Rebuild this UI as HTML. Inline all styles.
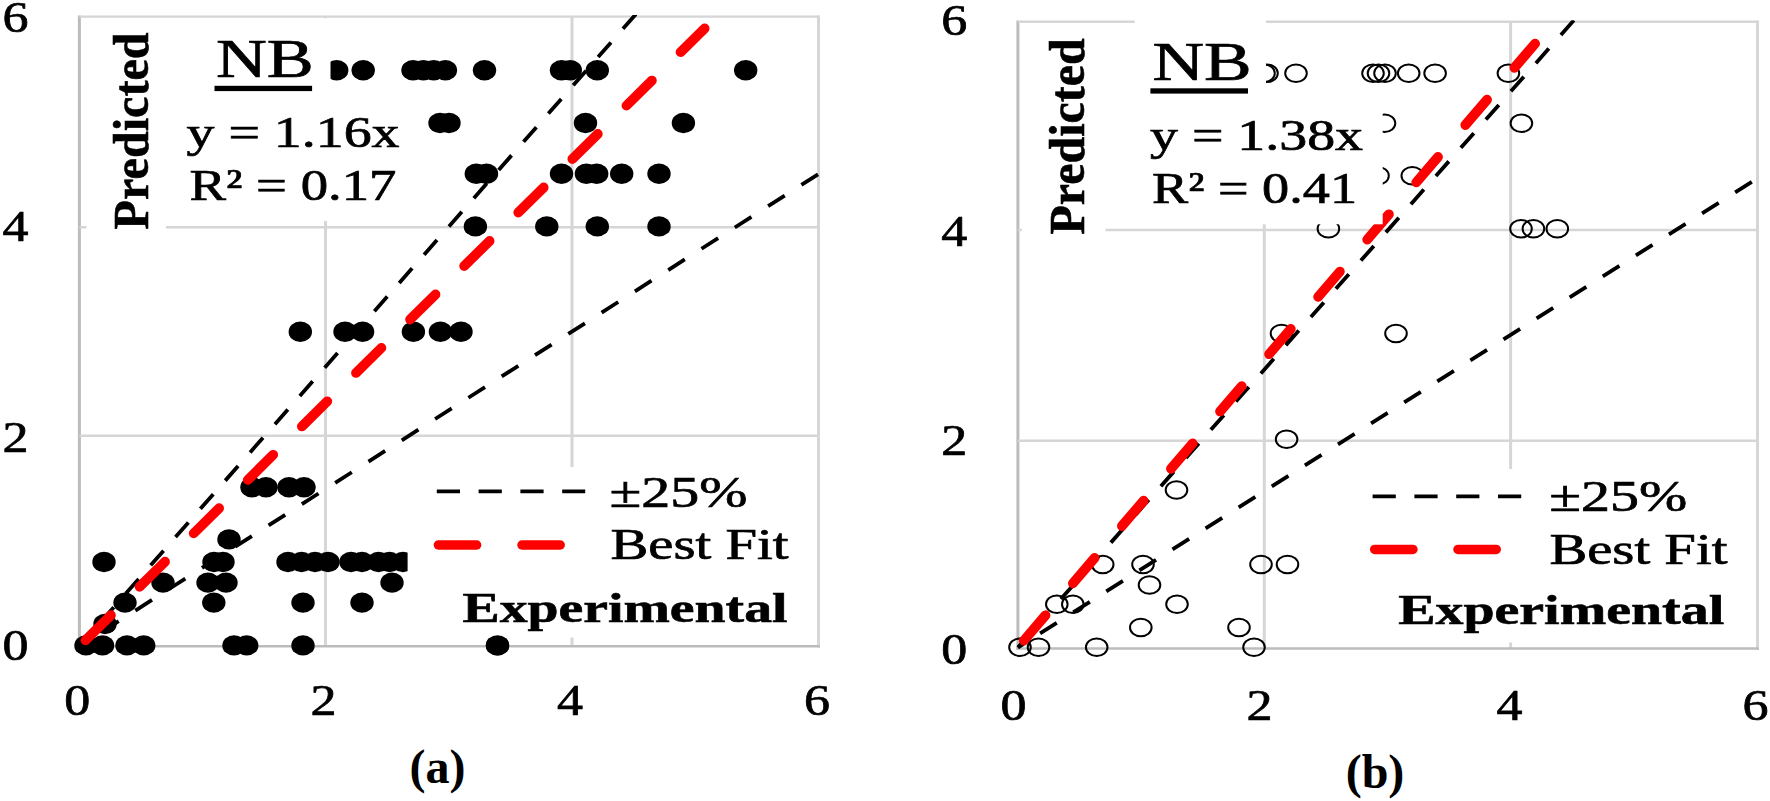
<!DOCTYPE html>
<html lang="en"><head><meta charset="utf-8"><title>NB predicted vs experimental</title>
<style>html,body{margin:0;padding:0;background:#fff}svg{display:block}</style></head>
<body>
<svg width="1770" height="801" viewBox="0 0 1770 801" font-family='"Liberation Serif",serif' fill="#000">
<rect width="1770" height="801" fill="#fff"/>
<defs><filter id="soft" x="0" y="0" width="1770" height="801" filterUnits="userSpaceOnUse"><feGaussianBlur stdDeviation="0.55"/></filter></defs>
<g id="chart-a" filter="url(#soft)">
<clipPath id="clipa"><rect x="77.9" y="15.1" width="742.1" height="632.7"/></clipPath>
<g stroke="#d6d6d6" fill="none">
<g stroke-width="3">
<line x1="325.5" y1="16.6" x2="325.5" y2="646.3"/>
<line x1="572.0" y1="16.6" x2="572.0" y2="646.3"/>
<line x1="818.5" y1="15.4" x2="818.5" y2="647.5"/>
<line x1="79.4" y1="15.4" x2="79.4" y2="647.5" stroke="#bcbcbc"/>
</g><g stroke-width="2.4">
<line x1="79.4" y1="227.3" x2="818.5" y2="227.3"/>
<line x1="79.4" y1="435.7" x2="818.5" y2="435.7"/>
<line x1="79.4" y1="16.6" x2="818.5" y2="16.6"/>
<line x1="77.9" y1="646.3" x2="820.0" y2="646.3" stroke="#bcbcbc"/>
</g></g>
<g fill="#000">
<ellipse cx="336.7" cy="70.3" rx="11.7" ry="10.2"/>
<ellipse cx="363.2" cy="70.3" rx="11.7" ry="10.2"/>
<ellipse cx="413.0" cy="70.3" rx="11.7" ry="10.2"/>
<ellipse cx="423.4" cy="70.3" rx="11.7" ry="10.2"/>
<ellipse cx="433.7" cy="70.3" rx="11.7" ry="10.2"/>
<ellipse cx="445.4" cy="70.3" rx="11.7" ry="10.2"/>
<ellipse cx="484.5" cy="70.3" rx="11.7" ry="10.2"/>
<ellipse cx="561.5" cy="70.3" rx="11.7" ry="10.2"/>
<ellipse cx="570.3" cy="70.3" rx="11.7" ry="10.2"/>
<ellipse cx="597.3" cy="70.3" rx="11.7" ry="10.2"/>
<ellipse cx="745.7" cy="70.3" rx="11.7" ry="10.2"/>
<ellipse cx="440.0" cy="123.0" rx="11.7" ry="10.2"/>
<ellipse cx="449.0" cy="123.0" rx="11.7" ry="10.2"/>
<ellipse cx="585.5" cy="123.0" rx="11.7" ry="10.2"/>
<ellipse cx="683.4" cy="123.0" rx="11.7" ry="10.2"/>
<ellipse cx="476.3" cy="173.8" rx="11.7" ry="10.2"/>
<ellipse cx="486.5" cy="173.8" rx="11.7" ry="10.2"/>
<ellipse cx="561.5" cy="173.8" rx="11.7" ry="10.2"/>
<ellipse cx="586.4" cy="173.8" rx="11.7" ry="10.2"/>
<ellipse cx="596.7" cy="173.8" rx="11.7" ry="10.2"/>
<ellipse cx="621.7" cy="173.8" rx="11.7" ry="10.2"/>
<ellipse cx="659.0" cy="173.8" rx="11.7" ry="10.2"/>
<ellipse cx="475.4" cy="226.4" rx="11.7" ry="10.2"/>
<ellipse cx="546.8" cy="226.4" rx="11.7" ry="10.2"/>
<ellipse cx="597.3" cy="226.4" rx="11.7" ry="10.2"/>
<ellipse cx="659.0" cy="226.4" rx="11.7" ry="10.2"/>
<ellipse cx="300.3" cy="331.7" rx="11.7" ry="10.2"/>
<ellipse cx="345.0" cy="331.7" rx="11.7" ry="10.2"/>
<ellipse cx="362.6" cy="331.7" rx="11.7" ry="10.2"/>
<ellipse cx="413.4" cy="331.7" rx="11.7" ry="10.2"/>
<ellipse cx="440.4" cy="331.7" rx="11.7" ry="10.2"/>
<ellipse cx="461.0" cy="331.7" rx="11.7" ry="10.2"/>
<ellipse cx="252.0" cy="487.3" rx="11.7" ry="10.2"/>
<ellipse cx="266.0" cy="487.3" rx="11.7" ry="10.2"/>
<ellipse cx="289.0" cy="487.3" rx="11.7" ry="10.2"/>
<ellipse cx="304.0" cy="487.3" rx="11.7" ry="10.2"/>
<ellipse cx="229.0" cy="539.4" rx="11.7" ry="10.2"/>
<ellipse cx="104.0" cy="562.0" rx="11.7" ry="10.2"/>
<ellipse cx="214.0" cy="562.0" rx="11.7" ry="10.2"/>
<ellipse cx="223.0" cy="562.0" rx="11.7" ry="10.2"/>
<ellipse cx="288.0" cy="562.0" rx="11.7" ry="10.2"/>
<ellipse cx="301.6" cy="562.0" rx="11.7" ry="10.2"/>
<ellipse cx="315.0" cy="562.0" rx="11.7" ry="10.2"/>
<ellipse cx="328.0" cy="562.0" rx="11.7" ry="10.2"/>
<ellipse cx="351.0" cy="562.0" rx="11.7" ry="10.2"/>
<ellipse cx="362.0" cy="562.0" rx="11.7" ry="10.2"/>
<ellipse cx="378.5" cy="562.0" rx="11.7" ry="10.2"/>
<ellipse cx="389.5" cy="562.0" rx="11.7" ry="10.2"/>
<ellipse cx="403.0" cy="562.0" rx="11.7" ry="10.2"/>
<ellipse cx="163.0" cy="582.6" rx="11.7" ry="10.2"/>
<ellipse cx="208.0" cy="582.6" rx="11.7" ry="10.2"/>
<ellipse cx="226.0" cy="582.6" rx="11.7" ry="10.2"/>
<ellipse cx="392.0" cy="582.6" rx="11.7" ry="10.2"/>
<ellipse cx="125.0" cy="602.6" rx="11.7" ry="10.2"/>
<ellipse cx="213.8" cy="602.6" rx="11.7" ry="10.2"/>
<ellipse cx="303.0" cy="602.6" rx="11.7" ry="10.2"/>
<ellipse cx="362.0" cy="602.6" rx="11.7" ry="10.2"/>
<ellipse cx="105.0" cy="624.0" rx="11.7" ry="10.2"/>
<ellipse cx="86.0" cy="645.4" rx="11.7" ry="10.2"/>
<ellipse cx="102.5" cy="645.4" rx="11.7" ry="10.2"/>
<ellipse cx="127.0" cy="645.4" rx="11.7" ry="10.2"/>
<ellipse cx="143.7" cy="645.4" rx="11.7" ry="10.2"/>
<ellipse cx="234.0" cy="645.4" rx="11.7" ry="10.2"/>
<ellipse cx="246.7" cy="645.4" rx="11.7" ry="10.2"/>
<ellipse cx="303.0" cy="645.4" rx="11.7" ry="10.2"/>
<ellipse cx="497.5" cy="645.4" rx="11.7" ry="10.2"/>
</g>
<g stroke="#000" stroke-width="3.8" fill="none" clip-path="url(#clipa)">
<line x1="79.4" y1="646.3" x2="670.7" y2="-25.4" stroke-dasharray="19.5 18.12" stroke-dashoffset="5.00"/>
<line x1="79.4" y1="646.3" x2="843.1" y2="158.3" stroke-dasharray="19.7 19.82" stroke-dashoffset="12.60"/>
</g>
<line x1="85.5" y1="640.3" x2="704.6" y2="28.4" stroke="#ff0000" stroke-width="9.8" stroke-linecap="round" stroke-dasharray="35.71 40.35"/>
<g fill="#fff">
<rect x="86.5" y="24.0" width="79.5" height="216.0"/>
<rect x="176.0" y="18.2" width="154.5" height="81.8"/>
<rect x="176.0" y="100.0" width="229.0" height="121.0"/>
<rect x="407.6" y="467.0" width="407.4" height="170.5"/>
</g>
<ellipse cx="497.5" cy="645.4" rx="11.7" ry="10.2"/>
<line x1="436.8" y1="491.4" x2="585.2" y2="491.4" stroke="#000" stroke-width="3.8" stroke-dasharray="23.2 18.6"/>
<line x1="438.4" y1="545.0" x2="476.6" y2="545.0" stroke="#ff0000" stroke-width="9.5" stroke-linecap="round"/>
<line x1="522.0" y1="545.0" x2="560.2" y2="545.0" stroke="#ff0000" stroke-width="9.5" stroke-linecap="round"/>
<text x="15.4" y="659.8" font-size="44.5" stroke="#000" stroke-width="0.7" text-anchor="middle" textLength="26.0" lengthAdjust="spacingAndGlyphs">0</text>
<text x="77.3" y="715.2" font-size="44.5" stroke="#000" stroke-width="0.7" text-anchor="middle" textLength="26.0" lengthAdjust="spacingAndGlyphs">0</text>
<text x="15.4" y="451.8" font-size="44.5" stroke="#000" stroke-width="0.7" text-anchor="middle" textLength="26.0" lengthAdjust="spacingAndGlyphs">2</text>
<text x="323.6" y="715.2" font-size="44.5" stroke="#000" stroke-width="0.7" text-anchor="middle" textLength="26.0" lengthAdjust="spacingAndGlyphs">2</text>
<text x="15.4" y="241.1" font-size="44.5" stroke="#000" stroke-width="0.7" text-anchor="middle" textLength="26.0" lengthAdjust="spacingAndGlyphs">4</text>
<text x="570.0" y="715.2" font-size="44.5" stroke="#000" stroke-width="0.7" text-anchor="middle" textLength="26.0" lengthAdjust="spacingAndGlyphs">4</text>
<text x="15.4" y="32.0" font-size="44.5" stroke="#000" stroke-width="0.7" text-anchor="middle" textLength="26.0" lengthAdjust="spacingAndGlyphs">6</text>
<text x="816.9" y="715.2" font-size="44.5" stroke="#000" stroke-width="0.7" text-anchor="middle" textLength="26.0" lengthAdjust="spacingAndGlyphs">6</text>
<text x="216.0" y="77.4" font-size="54.4" stroke="#000" stroke-width="0.7" textLength="97.8" lengthAdjust="spacingAndGlyphs">NB</text>
<text x="186.5" y="147.3" font-size="44" stroke="#000" stroke-width="0.7" textLength="213.0" lengthAdjust="spacingAndGlyphs">y = 1.16x</text>
<text x="189.5" y="199.7" font-size="44" stroke="#000" stroke-width="0.7" textLength="207.0" lengthAdjust="spacingAndGlyphs">R² = 0.17</text>
<text x="609.5" y="507.0" font-size="44.5" stroke="#000" stroke-width="0.7" textLength="138.0" lengthAdjust="spacingAndGlyphs">±25%</text>
<text x="610.5" y="559.0" font-size="43.5" stroke="#000" stroke-width="0.7" textLength="178.0" lengthAdjust="spacingAndGlyphs">Best Fit</text>
<text x="462.5" y="622.0" font-size="43" font-weight="bold" stroke="#000" stroke-width="0.6" textLength="325.0" lengthAdjust="spacingAndGlyphs">Experimental</text>
<rect x="214.5" y="85.8" width="97.6" height="5.3" fill="#000"/>
<text transform="translate(148.4 229.4) rotate(-90)" font-size="51.5" font-weight="bold" stroke="#000" stroke-width="0.6" textLength="197" lengthAdjust="spacingAndGlyphs">Predicted</text>
</g>
<text x="437.6" y="782.7" font-size="48" font-weight="bold" text-anchor="middle">(a)</text>
<g id="chart-b" filter="url(#soft)">
<clipPath id="clipb"><rect x="1016.4" y="20.2" width="742.6" height="628.8"/></clipPath>
<g stroke="#d6d6d6" fill="none">
<g stroke-width="3">
<line x1="1264.3" y1="21.7" x2="1264.3" y2="648.5"/>
<line x1="1510.6" y1="21.7" x2="1510.6" y2="648.5"/>
<line x1="1757.5" y1="20.5" x2="1757.5" y2="649.7"/>
<line x1="1017.9" y1="20.5" x2="1017.9" y2="649.7" stroke="#bcbcbc"/>
</g><g stroke-width="2.4">
<line x1="1017.9" y1="230.0" x2="1757.5" y2="230.0"/>
<line x1="1017.9" y1="440.7" x2="1757.5" y2="440.7"/>
<line x1="1017.9" y1="21.7" x2="1757.5" y2="21.7"/>
<line x1="1016.4" y1="648.5" x2="1759.0" y2="648.5" stroke="#bcbcbc"/>
</g></g>
<g fill="none" stroke="#000" stroke-width="2.0">
<ellipse cx="1264.0" cy="73.3" rx="10.8" ry="8.8"/>
<ellipse cx="1267.0" cy="73.3" rx="10.8" ry="8.8"/>
<ellipse cx="1296.0" cy="73.3" rx="10.8" ry="8.8"/>
<ellipse cx="1373.0" cy="73.3" rx="10.8" ry="8.8"/>
<ellipse cx="1378.5" cy="73.3" rx="10.8" ry="8.8"/>
<ellipse cx="1385.0" cy="73.3" rx="10.8" ry="8.8"/>
<ellipse cx="1408.7" cy="73.3" rx="10.8" ry="8.8"/>
<ellipse cx="1435.1" cy="73.3" rx="10.8" ry="8.8"/>
<ellipse cx="1508.4" cy="73.3" rx="10.8" ry="8.8"/>
<ellipse cx="1384.5" cy="123.3" rx="10.8" ry="8.8"/>
<ellipse cx="1521.4" cy="123.3" rx="10.8" ry="8.8"/>
<ellipse cx="1378.0" cy="175.8" rx="10.8" ry="8.8"/>
<ellipse cx="1412.3" cy="175.8" rx="10.8" ry="8.8"/>
<ellipse cx="1328.4" cy="228.8" rx="10.8" ry="8.8"/>
<ellipse cx="1521.0" cy="228.8" rx="10.8" ry="8.8"/>
<ellipse cx="1533.4" cy="228.8" rx="10.8" ry="8.8"/>
<ellipse cx="1557.3" cy="228.8" rx="10.8" ry="8.8"/>
<ellipse cx="1281.5" cy="333.5" rx="10.8" ry="8.8"/>
<ellipse cx="1396.0" cy="333.5" rx="10.8" ry="8.8"/>
<ellipse cx="1286.6" cy="439.3" rx="10.8" ry="8.8"/>
<ellipse cx="1176.5" cy="490.0" rx="10.8" ry="8.8"/>
<ellipse cx="1102.7" cy="564.5" rx="10.8" ry="8.8"/>
<ellipse cx="1143.0" cy="564.5" rx="10.8" ry="8.8"/>
<ellipse cx="1261.0" cy="564.5" rx="10.8" ry="8.8"/>
<ellipse cx="1287.5" cy="564.5" rx="10.8" ry="8.8"/>
<ellipse cx="1149.5" cy="585.0" rx="10.8" ry="8.8"/>
<ellipse cx="1056.8" cy="604.3" rx="10.8" ry="8.8"/>
<ellipse cx="1072.8" cy="604.3" rx="10.8" ry="8.8"/>
<ellipse cx="1177.0" cy="604.3" rx="10.8" ry="8.8"/>
<ellipse cx="1140.8" cy="627.5" rx="10.8" ry="8.8"/>
<ellipse cx="1239.0" cy="627.5" rx="10.8" ry="8.8"/>
<ellipse cx="1020.0" cy="647.3" rx="10.8" ry="8.8"/>
<ellipse cx="1038.5" cy="647.3" rx="10.8" ry="8.8"/>
<ellipse cx="1096.7" cy="647.3" rx="10.8" ry="8.8"/>
<ellipse cx="1254.0" cy="647.3" rx="10.8" ry="8.8"/>
</g>
<g stroke="#000" stroke-width="3.8" fill="none" clip-path="url(#clipb)">
<line x1="1017.9" y1="647.5" x2="1609.6" y2="-20.0" stroke-dasharray="19.5 18.19" stroke-dashoffset="10.60"/>
<line x1="1017.9" y1="647.5" x2="1782.2" y2="162.5" stroke-dasharray="19.7 19.50" stroke-dashoffset="12.90"/>
</g>
<line x1="1023.8" y1="640.6" x2="1535.1" y2="43.6" stroke="#ff0000" stroke-width="9.8" stroke-linecap="round" stroke-dasharray="33.36 42.06"/>
<g fill="#fff">
<rect x="1021.8" y="30.0" width="83.7" height="215.0"/>
<rect x="1134.8" y="15.0" width="131.2" height="85.0"/>
<rect x="1140.0" y="100.0" width="242.7" height="124.3"/>
<rect x="1345.0" y="469.0" width="409.0" height="173.5"/>
</g>
<line x1="1372.6" y1="496.4" x2="1521.2" y2="496.4" stroke="#000" stroke-width="3.8" stroke-dasharray="23.2 18.6"/>
<line x1="1374.7" y1="549.4" x2="1412.9" y2="549.4" stroke="#ff0000" stroke-width="9.5" stroke-linecap="round"/>
<line x1="1458.0" y1="549.4" x2="1496.2" y2="549.4" stroke="#ff0000" stroke-width="9.5" stroke-linecap="round"/>
<text x="954.3" y="664.4" font-size="44.5" stroke="#000" stroke-width="0.7" text-anchor="middle" textLength="26.0" lengthAdjust="spacingAndGlyphs">0</text>
<text x="1013.5" y="720.0" font-size="44.5" stroke="#000" stroke-width="0.7" text-anchor="middle" textLength="26.0" lengthAdjust="spacingAndGlyphs">0</text>
<text x="954.3" y="454.6" font-size="44.5" stroke="#000" stroke-width="0.7" text-anchor="middle" textLength="26.0" lengthAdjust="spacingAndGlyphs">2</text>
<text x="1259.6" y="720.0" font-size="44.5" stroke="#000" stroke-width="0.7" text-anchor="middle" textLength="26.0" lengthAdjust="spacingAndGlyphs">2</text>
<text x="954.3" y="245.8" font-size="44.5" stroke="#000" stroke-width="0.7" text-anchor="middle" textLength="26.0" lengthAdjust="spacingAndGlyphs">4</text>
<text x="1509.5" y="720.0" font-size="44.5" stroke="#000" stroke-width="0.7" text-anchor="middle" textLength="26.0" lengthAdjust="spacingAndGlyphs">4</text>
<text x="954.3" y="35.0" font-size="44.5" stroke="#000" stroke-width="0.7" text-anchor="middle" textLength="26.0" lengthAdjust="spacingAndGlyphs">6</text>
<text x="1755.5" y="720.0" font-size="44.5" stroke="#000" stroke-width="0.7" text-anchor="middle" textLength="26.0" lengthAdjust="spacingAndGlyphs">6</text>
<text x="1152.4" y="79.6" font-size="54.4" stroke="#000" stroke-width="0.7" textLength="99.2" lengthAdjust="spacingAndGlyphs">NB</text>
<text x="1150.0" y="150.4" font-size="44.5" stroke="#000" stroke-width="0.7" textLength="213.0" lengthAdjust="spacingAndGlyphs">y = 1.38x</text>
<text x="1152.0" y="202.8" font-size="44.5" stroke="#000" stroke-width="0.7" textLength="205.0" lengthAdjust="spacingAndGlyphs">R² = 0.41</text>
<text x="1549.2" y="511.3" font-size="44.5" stroke="#000" stroke-width="0.7" textLength="138.0" lengthAdjust="spacingAndGlyphs">±25%</text>
<text x="1549.4" y="563.5" font-size="43.5" stroke="#000" stroke-width="0.7" textLength="178.0" lengthAdjust="spacingAndGlyphs">Best Fit</text>
<text x="1398.2" y="623.8" font-size="43" font-weight="bold" stroke="#000" stroke-width="0.6" textLength="326.0" lengthAdjust="spacingAndGlyphs">Experimental</text>
<rect x="1150.4" y="88.3" width="97.6" height="5.3" fill="#000"/>
<text transform="translate(1083.9 234.4) rotate(-90)" font-size="51.5" font-weight="bold" stroke="#000" stroke-width="0.6" textLength="196" lengthAdjust="spacingAndGlyphs">Predicted</text>
</g>
<text x="1375.0" y="788.2" font-size="48" font-weight="bold" text-anchor="middle">(b)</text>
</svg>
</body></html>
